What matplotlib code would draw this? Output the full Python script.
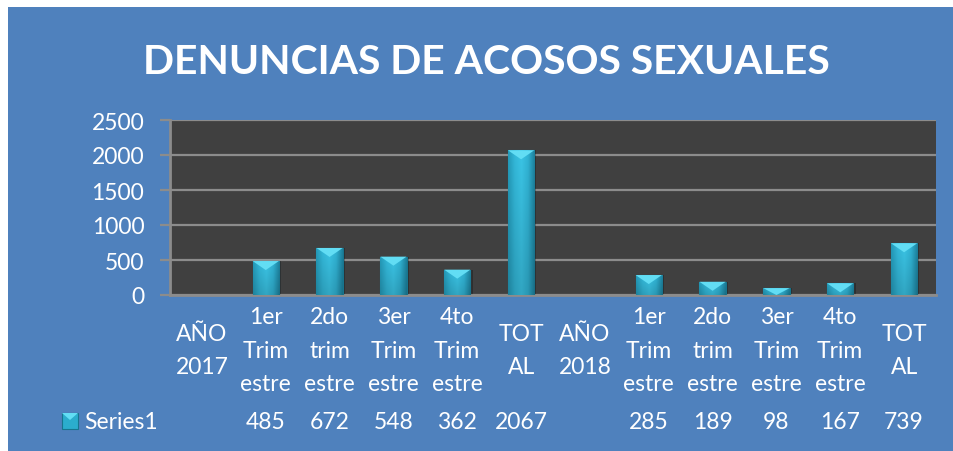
import matplotlib
matplotlib.use('Agg')
import matplotlib.pyplot as plt
import numpy as np
from matplotlib.patches import Rectangle, Polygon
import matplotlib.transforms as mtransforms

plt.rcParams['font.family'] = ['Lato', 'DejaVu Sans']

# ---------------- data ----------------
categories = ["AÑO\n2017", "1er\nTrim\nestre", "2do\ntrim\nestre", "3er\nTrim\nestre",
              "4to\nTrim\nestre", "TOT\nAL", "AÑO\n2018", "1er\nTrim\nestre",
              "2do\ntrim\nestre", "3er\nTrim\nestre", "4to\nTrim\nestre", "TOT\nAL"]
values = [None, 485, 672, 548, 362, 2067, None, 285, 189, 98, 167, 739]
series_name = "Series1"
title = "DENUNCIAS DE ACOSOS SEXUALES"
yticks = [0, 500, 1000, 1500, 2000, 2500]

# ---------------- layout ----------------
W, H = 954, 452
BLUE = '#4F81BD'
fig = plt.figure(figsize=(W / 100, H / 100), dpi=100, facecolor='white')
fig.patches.append(Rectangle((8 / W, 0), 1 - 8 / W, 1 - 8 / H, transform=fig.transFigure,
                             facecolor=BLUE, edgecolor='none', zorder=-10))

L, R, T, B = 170, 936, 121, 296
ax = fig.add_axes([L / W, 1 - B / H, (R - L) / W, (B - T) / H])
ax.set_zorder(1)
ax.set_facecolor('#404040')
ax.set_xlim(-0.5, len(categories) - 0.5)
ax.set_ylim(yticks[0], yticks[-1])
ax.set_yticks(yticks)
ax.set_xticks([])
ax.yaxis.grid(True, color='#8C8C8C', lw=1.6)
ax.set_axisbelow(True)
ax.tick_params(axis='y', length=7.5, width=1.6, color='#8C8C8C', labelcolor='white',
               labelsize=16.5, pad=11)
for s in ['top', 'right']:
    ax.spines[s].set_visible(False)
for s in ['left', 'bottom']:
    ax.spines[s].set_color('#8C8C8C')
    ax.spines[s].set_linewidth(2)

# ---------------- bars ----------------
bw = 0.41
x = np.arange(len(categories))
ymax = yticks[-1]
bevel_h = 9.0 / (B - T) * ymax

cols = np.array([
    [0.14, 0.60, 0.72],
    [0.20, 0.72, 0.85],
    [0.23, 0.77, 0.90],
    [0.19, 0.70, 0.83],
    [0.11, 0.50, 0.61],
])
gx = np.linspace(0, 1, 64)
gp = np.linspace(0, 1, len(cols))
grad = np.stack([np.interp(gx, gp, cols[:, k]) for k in range(3)], axis=-1)
gy = np.linspace(0.85, 1.0, 32)[:, None, None]
img = np.clip(grad[None, :, :] * gy, 0, 1)

for xi, v in zip(x, values):
    if v is None:
        continue
    ax.bar(xi + 0.035, v, width=bw, color='black', alpha=0.25, zorder=2, lw=0)
    bars = ax.bar(xi, v, width=bw, color='#2BADCD', edgecolor='#17758E', lw=0.8, zorder=3)
    patch = bars[0]
    im = ax.imshow(img, extent=[xi - bw / 2, xi + bw / 2, 0, v], aspect='auto',
                   origin='lower', zorder=3.5, interpolation='bilinear')
    im.set_clip_path(patch)
    h = min(bevel_h, v)
    tri = Polygon([[xi - bw / 2, v], [xi + bw / 2, v], [xi, v - h]], closed=True,
                  facecolor='#62DDF4', edgecolor='none', zorder=4)
    ax.add_patch(tri)

ax.set_xlim(-0.5, len(categories) - 0.5)
ax.set_ylim(yticks[0], yticks[-1])

# ---------------- category labels & data table ----------------
blend = mtransforms.blended_transform_factory(ax.transData, fig.transFigure)
for xi, c in zip(x, categories):
    ax.text(xi, 1 - 351 / H, c, transform=blend, ha='center', va='center',
            multialignment='center', color='white', fontsize=16.5, linespacing=1.75,
            clip_on=False)
for xi, v in zip(x, values):
    if v is None:
        continue
    ax.text(xi, 1 - 423 / H, str(v), transform=blend, ha='center', va='center',
            color='white', fontsize=16.5, clip_on=False)

# legend key
fig.patches.append(Rectangle((62 / W, 1 - 430 / H), 16 / W, 16 / H, transform=fig.transFigure,
                             facecolor='#2BADCD', edgecolor='#17758E', lw=0.8, zorder=3))
fig.patches.append(Polygon([[62 / W, 1 - 414 / H], [78 / W, 1 - 414 / H], [70 / W, 1 - 421 / H]],
                           closed=True, transform=fig.transFigure, facecolor='#62DDF4',
                           edgecolor='none', zorder=4))
fig.text(84 / W, 1 - 423 / H, series_name, ha='left', va='center', color='white', fontsize=16.5)

# ---------------- title ----------------
t = fig.text(486.5 / W, 1 - 62 / H, title, ha='center', va='center', color='white',
             fontsize=30, fontweight='bold')
fig.canvas.draw()
ext = t.get_window_extent()
t.set_fontsize(30 * 687.0 / ext.width)

fig.savefig('out.png', dpi=100, facecolor='white')
